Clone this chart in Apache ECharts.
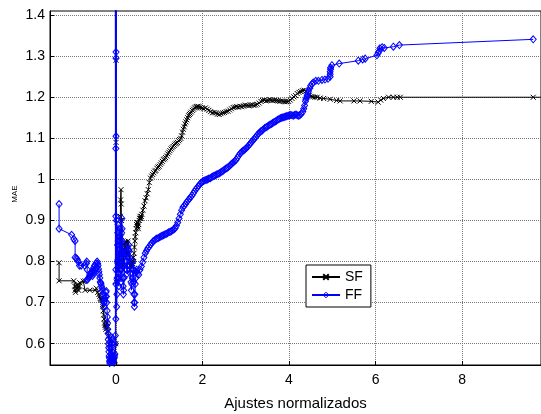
<!DOCTYPE html>
<html>
<head>
<meta charset="utf-8">
<script src="https://cdn.jsdelivr.net/npm/echarts@6/dist/echarts.min.js"></script>
<style>html,body{margin:0;padding:0;background:#fff}#c{width:541px;height:414px}</style>
</head>
<body>
<div id="c"></div>
<script>
// ---- tick labels ----
const xTicks = [0, 2, 4, 6, 8];
const yTicks = [0.6, 0.7, 0.8, 0.9, 1.0, 1.1, 1.2, 1.3, 1.4];

// ---- SF series (black, x markers) ----
const sfLeft = [[-1.31,0.797],[-1.31,0.753],[-0.97,0.753],[-0.95,0.74],[-0.94,0.73],[-0.93,0.725],[-0.92,0.732],[-0.9,0.735],[-0.89,0.742],[-0.88,0.745],[-0.87,0.738],[-0.86,0.73],[-0.84,0.74],[-0.83,0.748],[-0.75,0.752],[-0.71,0.753],[-0.71,0.73],[-0.6,0.73],[-0.48,0.73],[-0.45,0.735],[-0.42,0.725],[-0.39,0.72],[-0.37,0.715],[-0.36,0.71],[-0.34,0.708],[-0.33,0.706],[-0.31,0.695],[-0.3,0.69],[-0.29,0.68],[-0.28,0.67],[-0.27,0.66],[-0.26,0.65],[-0.25,0.645],[-0.24,0.64],[-0.23,0.635],[-0.22,0.645],[-0.2,0.65],[-0.19,0.64],[-0.18,0.63],[-0.17,0.62],[-0.15,0.61],[-0.14,0.595],[-0.13,0.58],[-0.12,0.57],[-0.11,0.56],[-0.1,0.555],[-0.09,0.55],[-0.08,0.56],[-0.07,0.57],[-0.06,0.56],[-0.05,0.555],[-0.03,0.558],[-0.02,0.56],[0,0.6]];
const sfSpike = [[0,1.45],[0.005,1.29],[0.005,1.09],[0.01,0.75],[0.02,0.78],[0.03,0.8],[0.04,0.79],[0.05,0.81],[0.06,0.8],[0.07,0.78],[0.08,0.79],[0.09,0.82],[0.1,0.86],[0.105,0.91],[0.11,0.95],[0.12,0.975],[0.125,0.94],[0.13,0.9],[0.135,0.86],[0.14,0.82],[0.15,0.8],[0.16,0.78],[0.17,0.79],[0.18,0.815],[0.19,0.83],[0.2,0.84],[0.21,0.845],[0.22,0.848],[0.23,0.83],[0.24,0.81],[0.25,0.825],[0.26,0.84],[0.27,0.845],[0.28,0.85],[0.29,0.835],[0.3,0.82],[0.31,0.81],[0.32,0.8],[0.33,0.79],[0.34,0.78],[0.35,0.79],[0.36,0.8],[0.37,0.795],[0.38,0.79],[0.39,0.795],[0.4,0.8],[0.41,0.81],[0.42,0.82],[0.43,0.835],[0.44,0.85],[0.45,0.86],[0.46,0.87],[0.47,0.88],[0.48,0.89],[0.49,0.895],[0.5,0.895],[0.51,0.885],[0.52,0.88],[0.53,0.89],[0.54,0.9],[0.55,0.905],[0.56,0.91],[0.57,0.905],[0.58,0.905],[0.59,0.91]];
const sfRise = [[0.6,0.915],[0.625,0.925],[0.65,0.935],[0.675,0.948],[0.7,0.955],[0.725,0.965],[0.75,0.975],[0.775,0.992],[0.8,1.003],[0.825,1.008],[0.85,1.012],[0.875,1.016],[0.9,1.02],[0.925,1.022],[0.95,1.027],[0.975,1.03],[1.0,1.032],[1.025,1.036],[1.05,1.04],[1.075,1.044],[1.1,1.048],[1.125,1.05],[1.15,1.053],[1.175,1.057],[1.2,1.062],[1.225,1.066],[1.25,1.07],[1.275,1.074],[1.3,1.077],[1.325,1.08],[1.35,1.083],[1.375,1.086],[1.4,1.088],[1.425,1.09],[1.45,1.094],[1.475,1.097],[1.5,1.1],[1.52,1.106],[1.54,1.115],[1.56,1.122],[1.58,1.128],[1.6,1.135],[1.62,1.14],[1.64,1.145],[1.66,1.15],[1.68,1.155],[1.7,1.158],[1.72,1.161],[1.745,1.164],[1.77,1.168],[1.795,1.171],[1.82,1.174],[1.845,1.176],[1.87,1.177],[1.895,1.178],[1.92,1.177]];
const sfPlateau = [[1.95,1.175],[1.99,1.174],[2.03,1.172],[2.07,1.174],[2.11,1.171],[2.15,1.168],[2.19,1.165],[2.23,1.162],[2.27,1.163],[2.31,1.162],[2.35,1.159],[2.39,1.158],[2.43,1.16],[2.47,1.162],[2.51,1.163],[2.55,1.165],[2.59,1.166],[2.63,1.169],[2.67,1.172],[2.71,1.175],[2.75,1.176],[2.79,1.177],[2.83,1.176],[2.87,1.178],[2.91,1.177],[2.95,1.179],[2.99,1.181],[3.03,1.18],[3.07,1.179],[3.11,1.181],[3.15,1.182],[3.19,1.18],[3.23,1.181],[3.27,1.183],[3.31,1.186],[3.35,1.19],[3.39,1.192],[3.43,1.193],[3.47,1.191],[3.51,1.192],[3.55,1.194],[3.59,1.193],[3.63,1.192],[3.67,1.193],[3.71,1.192],[3.75,1.191],[3.79,1.19],[3.83,1.191],[3.87,1.19],[3.91,1.189],[3.95,1.189],[3.99,1.19],[4.03,1.193],[4.07,1.197],[4.11,1.201],[4.15,1.204],[4.19,1.209],[4.23,1.212],[4.27,1.214],[4.31,1.216],[4.35,1.217],[4.39,1.215],[4.43,1.21],[4.47,1.205],[4.51,1.202],[4.55,1.201],[4.6,1.2],[4.65,1.2]];
const sfTail = [[4.72,1.198],[4.8,1.197],[4.95,1.195],[5.1,1.192],[5.18,1.191],[5.5,1.191],[5.64,1.191],[5.9,1.19],[6.06,1.188],[6.12,1.193],[6.18,1.197],[6.3,1.2],[6.41,1.2],[6.5,1.2],[6.57,1.2],[9.64,1.2],[9.9,1.2]];

// ---- FF series (blue, diamond markers) ----
const ffLeft = [[-1.31,0.94],[-1.31,0.88],[-1.02,0.865],[-0.97,0.855],[-0.94,0.85],[-0.94,0.81],[-0.91,0.808],[-0.89,0.805],[-0.87,0.8],[-0.84,0.79],[-0.8,0.79],[-0.72,0.79],[-0.68,0.795],[-0.67,0.8],[-0.66,0.78],[-0.67,0.755],[-0.65,0.757],[-0.63,0.76],[-0.61,0.763],[-0.6,0.765],[-0.58,0.768],[-0.57,0.77],[-0.56,0.772],[-0.55,0.775],[-0.54,0.765],[-0.53,0.78],[-0.52,0.77],[-0.51,0.785],[-0.5,0.775],[-0.49,0.79],[-0.48,0.782],[-0.46,0.795],[-0.45,0.785],[-0.43,0.8],[-0.42,0.795],[-0.41,0.79],[-0.4,0.782],[-0.39,0.775],[-0.38,0.768],[-0.37,0.76],[-0.36,0.75],[-0.35,0.748],[-0.34,0.745],[-0.33,0.74],[-0.32,0.735],[-0.31,0.728],[-0.3,0.72],[-0.29,0.705],[-0.28,0.69],[-0.27,0.7],[-0.26,0.71],[-0.25,0.705],[-0.24,0.715],[-0.23,0.725],[-0.22,0.728],[-0.215,0.715],[-0.21,0.7],[-0.2,0.68],[-0.195,0.665],[-0.19,0.65],[-0.185,0.635],[-0.18,0.625],[-0.175,0.61],[-0.17,0.6],[-0.165,0.59],[-0.16,0.58],[-0.155,0.57],[-0.15,0.565],[-0.145,0.558],[-0.14,0.553],[-0.13,0.556],[-0.12,0.56],[-0.115,0.568],[-0.11,0.575],[-0.105,0.588],[-0.1,0.6],[-0.095,0.61],[-0.09,0.615],[-0.085,0.6],[-0.08,0.58],[-0.075,0.57],[-0.07,0.56],[-0.065,0.557],[-0.06,0.555],[-0.05,0.558],[-0.04,0.565],[-0.03,0.57],[-0.02,0.575],[-0.015,0.6],[-0.01,0.62]];
const ffSpike = [[-0.01,1.45],[0,0.66],[0,0.745],[0,0.78],[0,0.91],[0,1.075],[0.005,1.105],[0.005,1.295],[0.005,1.31],[0.01,1.45],[0.015,0.9],[0.02,0.69],[0.025,0.72],[0.03,0.76],[0.035,0.8],[0.04,0.84],[0.045,0.87],[0.05,0.89],[0.055,0.85],[0.06,0.81],[0.065,0.77],[0.07,0.74],[0.075,0.76],[0.08,0.8],[0.085,0.83],[0.09,0.86],[0.1,0.88],[0.105,0.85],[0.11,0.81],[0.115,0.78],[0.12,0.75],[0.125,0.78],[0.13,0.82],[0.135,0.87],[0.14,0.905],[0.145,0.88],[0.15,0.85],[0.155,0.82],[0.16,0.79],[0.165,0.76],[0.17,0.74],[0.175,0.72],[0.18,0.73],[0.19,0.76],[0.2,0.79],[0.21,0.82],[0.22,0.835],[0.23,0.82],[0.24,0.8],[0.25,0.78],[0.26,0.77],[0.27,0.79],[0.28,0.81],[0.29,0.83],[0.3,0.84],[0.31,0.825],[0.32,0.81],[0.33,0.79],[0.34,0.77],[0.35,0.75],[0.36,0.73],[0.37,0.745],[0.38,0.76],[0.39,0.78],[0.4,0.8],[0.41,0.78],[0.415,0.75],[0.42,0.72],[0.425,0.7],[0.43,0.69],[0.435,0.7],[0.44,0.72],[0.45,0.745],[0.46,0.76],[0.47,0.775],[0.48,0.78],[0.49,0.775]];
const ffRise = [[0.5,0.77],[0.53,0.768],[0.56,0.78],[0.59,0.788],[0.62,0.798],[0.65,0.81],[0.68,0.82],[0.71,0.826],[0.74,0.832],[0.77,0.836],[0.8,0.841],[0.83,0.845],[0.86,0.849],[0.89,0.851],[0.92,0.854],[0.95,0.856],[0.98,0.857],[1.01,0.859],[1.04,0.861],[1.07,0.863],[1.1,0.864],[1.13,0.866],[1.16,0.867],[1.19,0.869],[1.22,0.871],[1.25,0.872],[1.28,0.874],[1.31,0.876],[1.34,0.878],[1.37,0.881],[1.4,0.887],[1.43,0.895],[1.46,0.905],[1.49,0.915],[1.52,0.925],[1.55,0.932],[1.58,0.936],[1.61,0.94],[1.64,0.945],[1.67,0.949],[1.7,0.953],[1.73,0.957],[1.76,0.961],[1.79,0.966],[1.82,0.971],[1.85,0.976],[1.88,0.98],[1.91,0.984],[1.94,0.988],[1.97,0.992],[2.0,0.994],[2.03,0.996],[2.06,0.998],[2.09,0.999],[2.12,1.0],[2.15,1.002],[2.18,1.003],[2.21,1.005],[2.24,1.007],[2.27,1.009],[2.3,1.01],[2.33,1.012],[2.36,1.013],[2.39,1.015],[2.42,1.017],[2.45,1.019],[2.48,1.021],[2.51,1.024],[2.54,1.026],[2.57,1.028],[2.6,1.03],[2.63,1.033],[2.66,1.036],[2.69,1.039],[2.72,1.042],[2.75,1.045],[2.78,1.048],[2.81,1.053],[2.84,1.058],[2.87,1.063],[2.9,1.066],[2.93,1.069],[2.96,1.071],[2.99,1.074],[3.02,1.077],[3.05,1.08],[3.08,1.084],[3.11,1.088],[3.14,1.092],[3.17,1.095],[3.2,1.099],[3.23,1.103],[3.26,1.107],[3.29,1.111],[3.32,1.114],[3.35,1.117],[3.38,1.119],[3.41,1.122],[3.44,1.125],[3.47,1.127],[3.5,1.129],[3.53,1.131],[3.56,1.133],[3.59,1.135],[3.62,1.137],[3.65,1.139],[3.68,1.141],[3.71,1.143],[3.74,1.145],[3.77,1.147],[3.8,1.149],[3.83,1.15],[3.86,1.151],[3.89,1.152],[3.92,1.153],[3.95,1.154],[3.98,1.155],[4.01,1.156],[4.04,1.157],[4.07,1.156],[4.1,1.155],[4.13,1.157],[4.16,1.158],[4.19,1.156],[4.22,1.155],[4.25,1.156],[4.28,1.159]];
const ffTail = [[4.32,1.165],[4.34,1.172],[4.36,1.18],[4.38,1.19],[4.39,1.195],[4.41,1.2],[4.42,1.205],[4.44,1.21],[4.45,1.215],[4.48,1.222],[4.5,1.228],[4.53,1.232],[4.56,1.236],[4.62,1.24],[4.68,1.24],[4.76,1.242],[4.83,1.243],[4.9,1.245],[4.95,1.25],[4.95,1.256],[4.95,1.262],[4.96,1.268],[4.96,1.272],[4.99,1.278],[5.16,1.282],[5.6,1.289],[5.7,1.292],[5.76,1.294],[6.03,1.302],[6.06,1.308],[6.08,1.312],[6.1,1.319],[6.15,1.322],[6.2,1.32],[6.41,1.323],[6.55,1.327],[9.64,1.341]];

const sfData = [].concat(sfLeft, sfSpike, sfRise, sfPlateau, sfTail);
const ffData = [].concat(ffLeft, ffSpike, ffRise, ffTail);

const FONT = 'Liberation Sans, Arial, sans-serif';
const chart = echarts.init(document.getElementById('c'), null, {renderer: 'canvas'});
chart.setOption({
  animation: false,
  backgroundColor: '#fff',
  grid: {left: 50, right: 0, top: 11, bottom: 49, containLabel: false, outerBoundsMode: 'none',
    show: true, borderColor: '#000', borderWidth: 1, backgroundColor: '#fff'},
  legend: {
    left: 306, top: 265, orient: 'vertical',
    backgroundColor: '#fff', borderColor: '#000', borderWidth: 1,
    padding: [5, 8, 5, 5], itemWidth: 28, itemHeight: 7, itemGap: 4,
    textStyle: {fontFamily: FONT, fontSize: 14, color: '#000'},
    data: [
      {name: 'SF'},
      {name: 'FF', itemStyle: {color: 'rgba(255,255,255,0)', borderColor: '#0000ff', borderWidth: 1}}
    ]
  },
  graphic: [{
    type: 'text', x: 15, y: 194, rotation: Math.PI / 2,
    style: {text: 'MAE', fontFamily: FONT, fontSize: 8, fill: '#000', align: 'center', verticalAlign: 'middle'}
  }],
  xAxis: [{
    type: 'value', min: -1.52, max: 9.82,
    name: 'Ajustes normalizados', nameLocation: 'middle', nameGap: 31,
    nameTextStyle: {fontFamily: FONT, fontSize: 15, color: '#000'},
    axisLine: {onZero: false, lineStyle: {color: '#000', width: 1}},
    axisTick: {inside: true, length: 4, customValues: xTicks, lineStyle: {color: '#000'}},
    axisLabel: {customValues: xTicks, fontFamily: FONT, fontSize: 14, color: '#000', margin: 8},
    splitLine: {show: true, lineStyle: {color: '#777', type: 'dotted', width: 1}}
  }],
  yAxis: [{
    type: 'value', min: 0.548, max: 1.41,
    axisLine: {onZero: false, lineStyle: {color: '#000', width: 1}},
    axisTick: {inside: true, length: 4, customValues: yTicks, lineStyle: {color: '#000'}},
    axisLabel: {customValues: yTicks, fontFamily: FONT, fontSize: 14, color: '#000', margin: 5,
      formatter: v => String(Math.round(v * 10) / 10)},
    splitLine: {show: true, lineStyle: {color: '#777', type: 'dotted', width: 1}}
  }],
  series: [{
    name: 'SF', type: 'line', data: sfData,
    symbol: 'path://M0,0L10,10M0,10L10,0', symbolSize: 5, showAllSymbol: true,
    lineStyle: {color: '#000', width: 1},
    itemStyle: {color: '#000', borderColor: '#000', borderWidth: 1},
    emphasis: {disabled: true}, z: 3
  }, {
    name: 'FF', type: 'line', data: ffData,
    symbol: 'diamond', symbolSize: [6, 7], showAllSymbol: true,
    lineStyle: {color: '#0000ff', width: 1},
    itemStyle: {color: 'rgba(255,255,255,0)', borderColor: '#0000ff', borderWidth: 1},
    emphasis: {disabled: true}, z: 4
  }]
});
</script>
</body>
</html>
